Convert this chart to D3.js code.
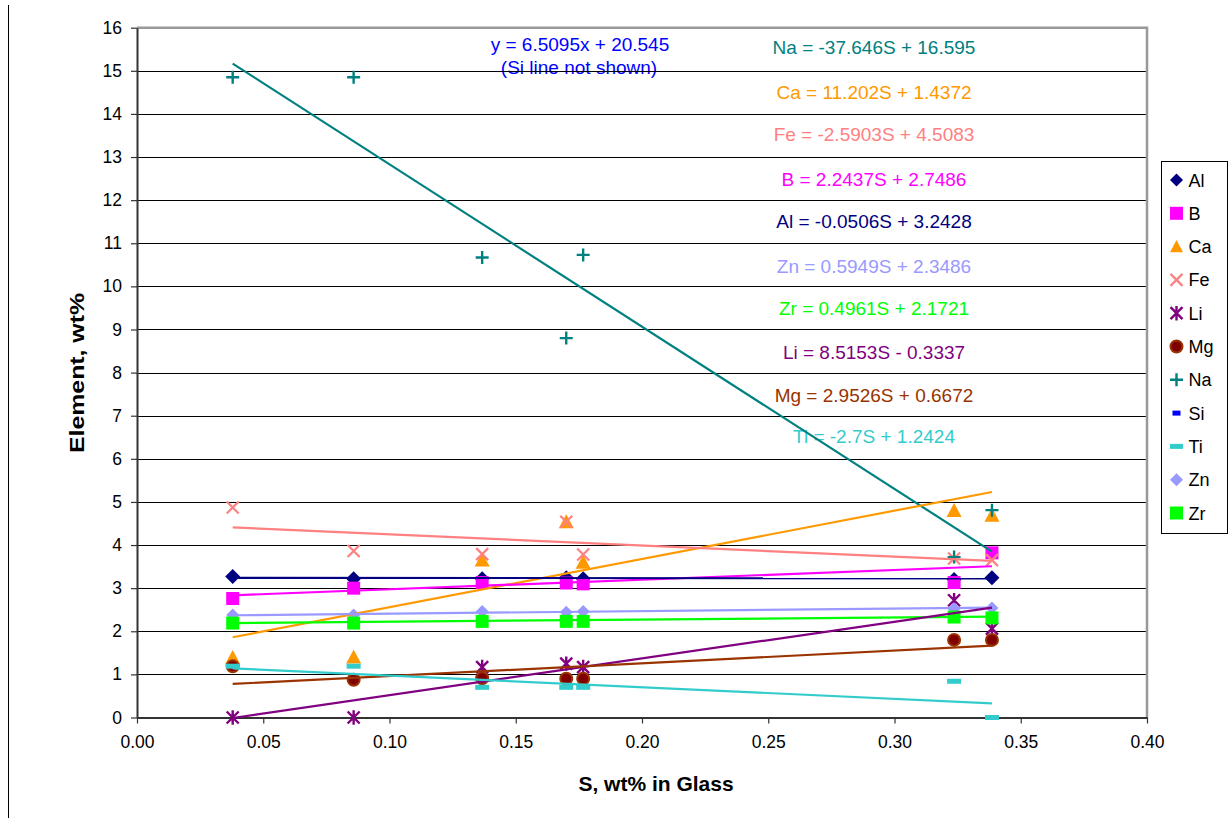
<!DOCTYPE html>
<html>
<head>
<meta charset="utf-8">
<script src="https://cdn.jsdelivr.net/npm/d3@7"></script>
<style>
  html, body { margin: 0; padding: 0; background: #fff; }
  svg { display: block; font-family: "Liberation Sans", Arial, sans-serif; }
</style>
</head>
<body>
<svg id="chart" width="1231" height="818"></svg>
<script>
// S content of each glass (wt%)
const sulfur = [0.0379, 0.0858, 0.1367, 0.1700, 0.1767, 0.3236, 0.3386];

// Element contents (wt%) at each S value
const Al = [3.27, 3.22, 3.22, 3.24, 3.22, 3.20, 3.24];
const B  = [2.76, 3.00, 3.13, 3.12, 3.10, 3.13, 3.82];
const Ca = [1.39, 1.40, 3.65, 4.54, 3.60, 4.80, 4.69];
const Fe = [4.87, 3.86, 3.79, 4.54, 3.78, 3.69, 3.65];
const Li = [0.00, 0.00, 1.17, 1.25, 1.17, 2.72, 2.06];
const Mg = [1.19, 0.875, 0.91, 0.90, 0.90, 1.80, 1.80];
const Na = [14.85, 14.85, 10.67, 8.80, 10.73, 3.72, 4.81];
const Si = []; // all Si values lie above the 16 wt% axis limit
const Ti = [1.19, 1.19, 0.70, 0.70, 0.70, 0.84, 0.00];
const Zn = [2.38, 2.38, 2.46, 2.44, 2.46, 2.52, 2.54];
const Zr = [2.19, 2.19, 2.23, 2.23, 2.23, 2.33, 2.31];

// Linear fits: element = slope * S + intercept
const fitNames      = ["Na", "Ca", "Fe", "B", "Al", "Zn", "Zr", "Li", "Mg", "Ti"];
const fitSlopes     = [-37.646, 11.202, -2.5903, 2.2437, -0.0506, 0.5949, 0.4961, 8.5153, 2.9526, -2.7];
const fitIntercepts = [16.595, 1.4372, 4.5083, 2.7486, 3.2428, 2.3486, 2.1721, -0.3337, 0.6672, 1.2424];
const siSlope = 6.5095, siIntercept = 20.545;

const xTicks = [0, 0.05, 0.10, 0.15, 0.20, 0.25, 0.30, 0.35, 0.40];
const yTicks = d3.range(0, 17, 1);

const series = [
  { name: "Al", values: Al, shape: "diamond",  color: "#000080", size: 7.5 },
  { name: "B",  values: B,  shape: "square",   color: "#FF00FF", size: 6.5 },
  { name: "Ca", values: Ca, shape: "triangle", color: "#FF9900", size: 7.5 },
  { name: "Fe", values: Fe, shape: "x",        color: "#FF8080", size: 6 },
  { name: "Li", values: Li, shape: "star",     color: "#800080", size: 6 },
  { name: "Mg", values: Mg, shape: "circle",   color: "#800000", stroke: "#993300", size: 6 },
  { name: "Na", values: Na, shape: "plus",     color: "#008080", size: 6.5 },
  { name: "Si", values: Si, shape: "smalldash",color: "#0000FF", size: 4 },
  { name: "Ti", values: Ti, shape: "dash",     color: "#33CCCC", size: 7 },
  { name: "Zn", values: Zn, shape: "diamond",  color: "#9999FF", size: 6.5 },
  { name: "Zr", values: Zr, shape: "square",   color: "#00FF00", size: 6.5 }
];
const lineColor = { Al: "#000080", B: "#FF00FF", Ca: "#FF9900", Fe: "#FF8080", Li: "#800080",
                    Mg: "#993300", Na: "#008080", Ti: "#33CCCC", Zn: "#9999FF", Zr: "#00FF00" };

const svg = d3.select("#chart");
const plot = { left: 137, right: 1147, top: 27.7, bottom: 717.5 };

const x = d3.scaleLinear().domain([0, 0.4]).range([plot.left, plot.right]);
const y = d3.scaleLinear().domain([0, 16]).range([plot.bottom, plot.top]);

// page edge line on the left
svg.append("line").attr("x1", 8.5).attr("x2", 8.5).attr("y1", 5).attr("y2", 818)
  .attr("stroke", "#000").attr("stroke-width", 1);

// fit equation labels (beneath grid and lines)
const eqLayer = svg.append("g").attr("font-size", 19).attr("text-anchor", "middle");
const eqBaselines = [54, 99, 141, 186, 228, 273, 315, 359, 402, 443];
fitNames.forEach((n, i) => {
  const s = fitSlopes[i], b = fitIntercepts[i];
  const txt = `${n} = ${s}S ${b < 0 ? "-" : "+"} ${Math.abs(b)}`;
  eqLayer.append("text").attr("x", 874).attr("y", eqBaselines[i])
    .attr("fill", lineColor[n]).text(txt);
});
eqLayer.append("text").attr("x", 580).attr("y", 51).attr("fill", "#0000FF")
  .text(`y = ${siSlope}x + ${siIntercept}`);
eqLayer.append("text").attr("x", 579).attr("y", 74).attr("fill", "#0000FF")
  .text("(Si line not shown)");

// horizontal gridlines
svg.append("g").selectAll("line").data(yTicks.filter(d => d > 0 && d < 16)).join("line")
  .attr("x1", plot.left).attr("x2", plot.right)
  .attr("y1", d => Math.round(y(d)) + 0.5).attr("y2", d => Math.round(y(d)) + 0.5)
  .attr("stroke", "#000").attr("stroke-width", 1);

// plot frame: grey top and right edges
svg.append("path")
  .attr("d", `M${plot.left},${plot.top} H${plot.right} V${plot.bottom}`)
  .attr("fill", "none").attr("stroke", "#999").attr("stroke-width", 2.5);

// axes
const xAxis = d3.axisBottom(x).tickValues(xTicks).tickFormat(d3.format(".2f"))
  .tickSizeOuter(0).tickSizeInner(6).tickPadding(12);
const gx = svg.append("g").attr("transform", `translate(0,${plot.bottom})`).call(xAxis);
const yAxis = d3.axisLeft(y).tickValues(yTicks).tickFormat(d3.format("d"))
  .tickSizeOuter(0).tickSizeInner(6).tickPadding(9);
const gy = svg.append("g").attr("transform", `translate(${plot.left},0)`).call(yAxis);
[gx, gy].forEach(g => {
  g.select(".domain").attr("stroke", "#333").attr("stroke-width", 2);
  g.selectAll(".tick line").attr("stroke", "#333").attr("stroke-width", 1.2);
  g.selectAll(".tick text").attr("font-size", 17.5).attr("fill", "#000")
    .attr("font-family", "Liberation Sans, Arial, sans-serif");
});

// axis titles
svg.append("text").attr("x", 656).attr("y", 791).attr("text-anchor", "middle")
  .attr("font-size", 21).attr("font-weight", "bold").text("S, wt% in Glass");
svg.append("text").attr("transform", "translate(84,373) rotate(-90)")
  .attr("text-anchor", "middle").attr("font-size", 21).attr("font-weight", "bold")
  .attr("textLength", 160).attr("lengthAdjust", "spacingAndGlyphs")
  .text("Element, wt%");

// marker drawing
function drawMarker(g, shape, s, color, stroke) {
  switch (shape) {
    case "diamond":
      g.append("path").attr("d", `M0,${-s} L${s},0 L0,${s} L${-s},0 Z`).attr("fill", color); break;
    case "square":
      g.append("rect").attr("x", -s).attr("y", -s).attr("width", 2 * s).attr("height", 2 * s).attr("fill", color); break;
    case "triangle":
      g.append("path").attr("d", `M0,${-s} L${s},${s * 0.85} L${-s},${s * 0.85} Z`).attr("fill", color); break;
    case "circle":
      g.append("circle").attr("r", s).attr("fill", color).attr("stroke", stroke).attr("stroke-width", 2); break;
    case "x":
      g.append("path").attr("d", `M${-s},${-s} L${s},${s} M${-s},${s} L${s},${-s}`)
        .attr("stroke", color).attr("stroke-width", 2.2).attr("fill", "none"); break;
    case "star":
      g.append("path").attr("d", `M${-s},${-s} L${s},${s} M${-s},${s} L${s},${-s} M0,${-s * 1.2} V${s * 1.2}`)
        .attr("stroke", color).attr("stroke-width", 2.4).attr("fill", "none"); break;
    case "plus":
      g.append("path").attr("d", `M${-s},0 H${s} M0,${-s} V${s}`)
        .attr("stroke", color).attr("stroke-width", 2.4).attr("fill", "none"); break;
    case "dash":
      g.append("rect").attr("x", -s).attr("y", -2.5).attr("width", 2 * s).attr("height", 5).attr("fill", color); break;
    case "smalldash":
      g.append("rect").attr("x", -s).attr("y", -2.5).attr("width", 2 * s).attr("height", 5).attr("fill", color); break;
  }
}

// data markers
const markerLayer = svg.append("g");
series.forEach(sr => {
  sr.values.forEach((v, i) => {
    if (v < 0 || v > 16) return;
    const g = markerLayer.append("g").attr("transform", `translate(${x(sulfur[i])},${y(v)})`);
    drawMarker(g, sr.shape, sr.size, sr.color, sr.stroke);
  });
});

// fitted trend lines over the sampled S range
const xMin = d3.min(sulfur), xMax = d3.max(sulfur);
const trendLayer = svg.append("g");
fitNames.forEach((n, i) => {
  const f = s => fitSlopes[i] * s + fitIntercepts[i];
  trendLayer.append("line")
    .attr("x1", x(xMin)).attr("y1", y(f(xMin)))
    .attr("x2", x(xMax)).attr("y2", y(f(xMax)))
    .attr("stroke", lineColor[n]).attr("stroke-width", 2.2);
});

// legend
const lg = svg.append("g").attr("transform", "translate(1161.5,161.5)");
lg.append("rect").attr("width", 66).attr("height", 372).attr("fill", "#fff")
  .attr("stroke", "#000").attr("stroke-width", 1);
series.forEach((sr, i) => {
  const cy = 18.5 + i * 33.3;
  const g = lg.append("g").attr("transform", `translate(15,${cy})`);
  const legendSize = sr.shape === "dash" ? 6.5 : Math.min(sr.size, 6.5);
  drawMarker(g, sr.shape, legendSize, sr.color, sr.stroke);
  lg.append("text").attr("x", 27).attr("y", cy + 6.5).attr("font-size", 18).attr("fill", "#000").text(sr.name);
});
</script>
</body>
</html>
